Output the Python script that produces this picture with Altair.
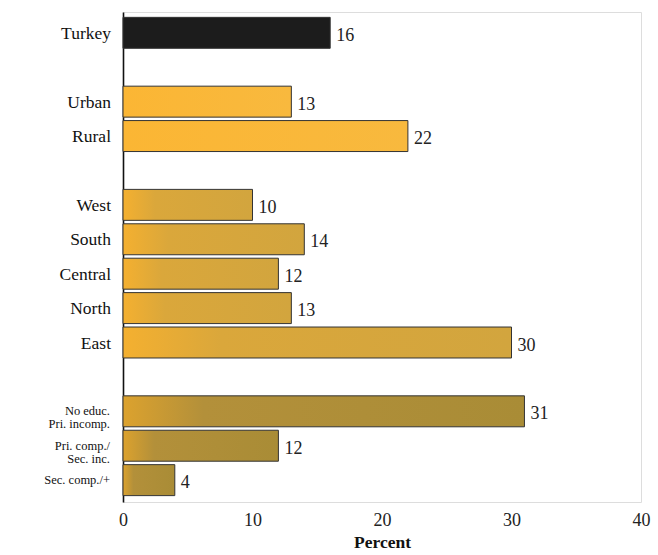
import altair as alt
import pandas as pd

# Bar categories, row positions (gaps between groups) and values (percent)
labels = ["Turkey", "Urban", "Rural", "West", "South", "Central", "North", "East",
          "No educ.\nPri. incomp.", "Pri. comp./\nSec. inc.", "Sec. comp./+"]
values = [16, 13, 22, 10, 14, 12, 13, 30, 31, 12, 4]
rows = [0, 2, 3, 5, 6, 7, 8, 9, 11, 12, 13]
groups = ["total", "residence", "residence", "region", "region", "region", "region",
          "region", "education", "education", "education"]
x_ticks = [0, 10, 20, 30, 40]

df = pd.DataFrame({"label": labels, "value": values, "row": rows, "group": groups})
df["y0"] = df["row"] - 0.45
df["y1"] = df["row"] + 0.45

SERIF = "Liberation Serif, Times New Roman, serif"


def grad(c0, c1, mid=None):
    stops = [{"offset": 0, "color": c0}]
    if mid:
        stops.append({"offset": mid[0], "color": mid[1]})
    stops.append({"offset": 1, "color": c1})
    return {"gradient": "linear", "x1": 0, "x2": 1, "y1": 0, "y2": 0, "stops": stops}


fills = {
    "total": grad("#1c1c1c", "#1c1c1c"),
    "residence": grad("#fbb634", "#f8b93e"),
    "region": grad("#f4b030", "#d2a53e", (0.25, "#daa73b")),
    "education": grad("#dca22e", "#a98c36", (0.2, "#b3903a")),
}

x_scale = alt.Scale(domain=[0, 40], nice=False)
x_enc = alt.X("value:Q", scale=x_scale,
              axis=alt.Axis(values=x_ticks, title="Percent", grid=False, ticks=False,
                            domain=False, labelFont=SERIF, labelFontSize=18,
                            labelColor="#222", labelPadding=9, labelFlush=False,
                            titleFont=SERIF, titleFontSize=17.5, titleFontWeight="bold",
                            titleColor="#111", titlePadding=4))
y_scale = alt.Scale(domain=[-0.46, 13.49], reverse=True, nice=False, zero=False)
y_enc = alt.Y("y0:Q", scale=y_scale,
              axis=alt.Axis(labels=False, ticks=False, grid=False, title=None,
                            domain=True, domainColor="#111", domainWidth=1.6))

base = alt.Chart(df)

bars = [
    base.transform_filter(alt.datum.group == g)
    .mark_bar(fill=f, stroke="#333", strokeWidth=1, orient="horizontal")
    .encode(x=x_enc, x2=alt.datum(0), y=y_enc, y2="y1:Q")
    for g, f in fills.items()
]

values_text = base.mark_text(align="left", baseline="middle", dx=6, dy=3,
                             font=SERIF, fontSize=18, color="#222").encode(
    x="value:Q", y=alt.Y("row:Q", scale=y_scale), text="value:Q")

cat_text = base.transform_filter(alt.datum.group != "education").mark_text(
    align="right", baseline="middle", dx=-12, dy=1, font=SERIF, fontSize=17.5,
    color="#111"
).encode(x=alt.datum(0), y=alt.Y("row:Q", scale=y_scale), text="label:N")

edu_text = base.transform_filter(alt.datum.group == "education").mark_text(
    align="right", baseline="middle", dx=-13, font=SERIF, fontSize=12.5, color="#111",
    lineBreak="\n", lineHeight=13
).encode(x=alt.datum(0), y=alt.Y("row:Q", scale=y_scale), text="label:N")

chart = alt.layer(*bars, values_text, cat_text, edu_text).properties(
    width=518, height=490, autosize="none",
    padding={"left": 123, "top": 12, "right": 17, "bottom": 53},
).configure_view(stroke="#555", strokeWidth=1.2).configure(background="white")

chart.save("out.html", embed_options={"renderer": "svg", "actions": False})
